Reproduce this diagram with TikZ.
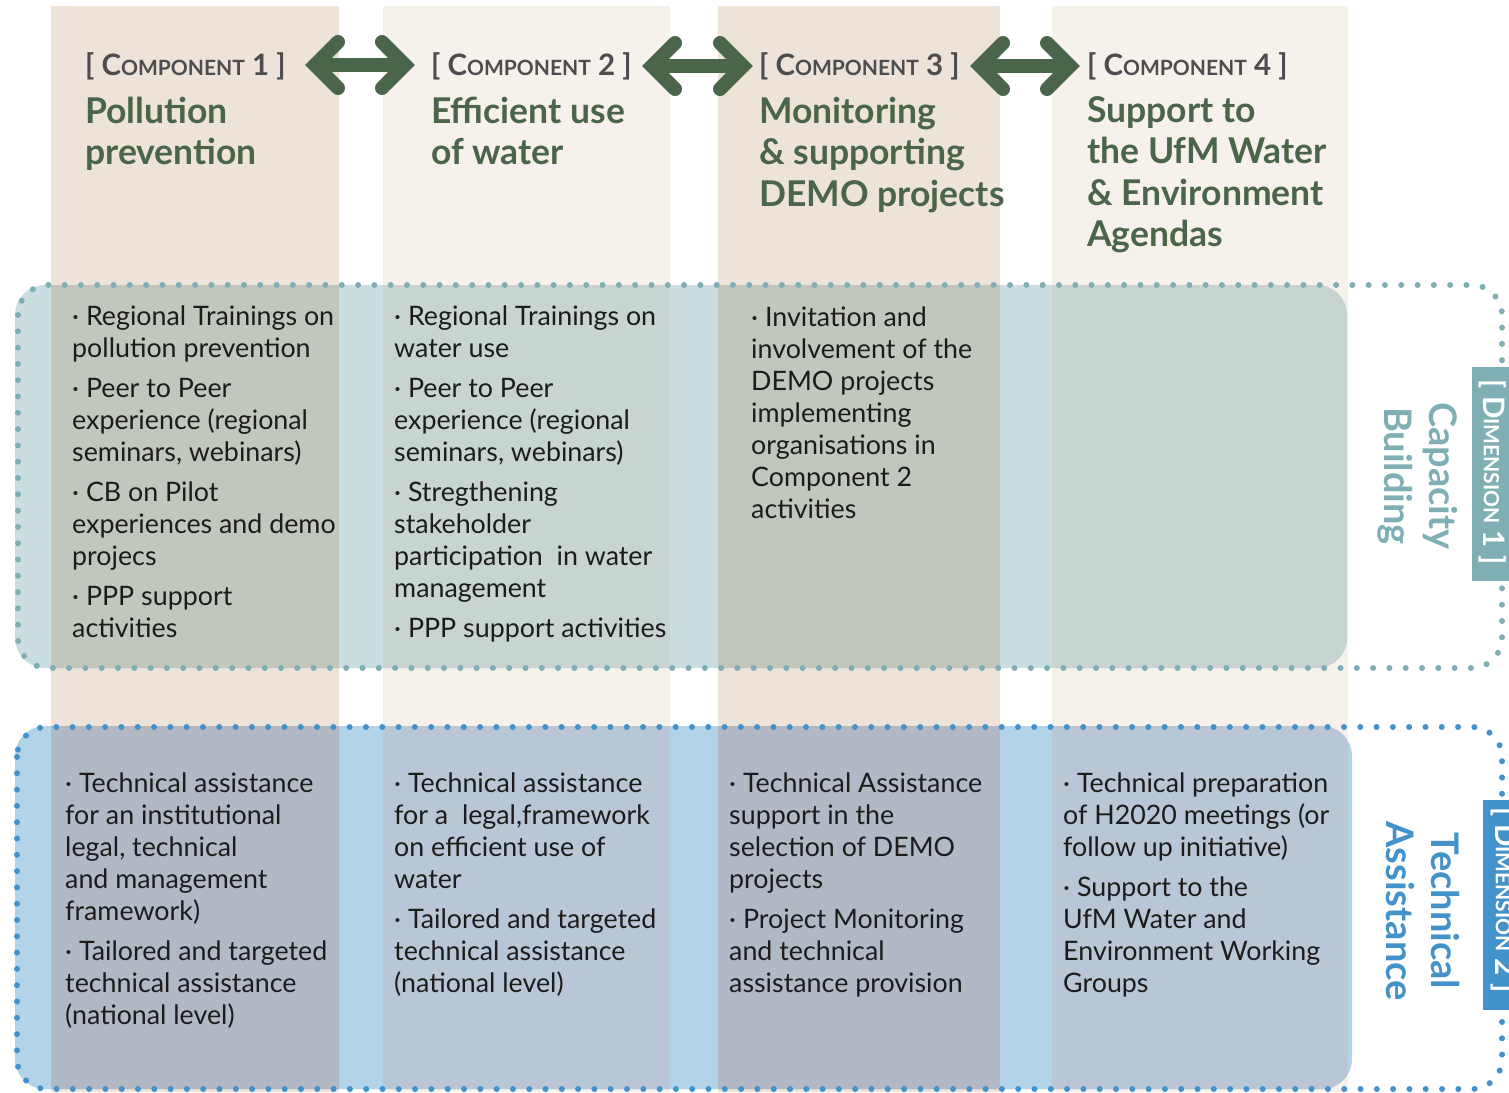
\documentclass[tikz,border=0pt]{standalone}
\usepackage{fontspec}
\setmainfont{Lato}
\definecolor{colA}{HTML}{EDE3D8}
\definecolor{colB}{HTML}{F6F1EB}
\definecolor{cbW}{HTML}{CADDE1}
\definecolor{cbA}{HTML}{C1C7BD}
\definecolor{cbB}{HTML}{C8D4D2}
\definecolor{taW}{HTML}{B3D3E9}
\definecolor{taA}{HTML}{B1B9C5}
\definecolor{taB}{HTML}{B8C6D6}
\definecolor{dimteal}{HTML}{7FAFB5}
\definecolor{dimblue}{HTML}{4392C9}
\definecolor{hgreen}{HTML}{4A654A}
\definecolor{hgray}{HTML}{4D4D4F}
\definecolor{btext}{HTML}{1C1C1C}
\newcommand\blk[2]{\begin{minipage}[t]{#1pt}\raggedright #2\end{minipage}}
\newcommand\smc[2]{{\fontsize{#1}{#1}\selectfont #2}}
\begin{document}
\begin{tikzpicture}[x=1pt,y=-1pt,
  hdr/.style={anchor=base west, inner sep=0, text=hgray, font=\bfseries\fontsize{29.5}{29.5}\selectfont},
  ttl/.style={anchor=base west, inner sep=0, text=hgreen, font=\bfseries\fontsize{35.5}{41.5}\selectfont},
  body/.style={anchor=base west, inner sep=0, text=btext, font=\fontsize{26.8}{32}\selectfont},
  dotb/.style={line width=6, dash pattern=on 0pt off 16.3pt, line cap=round, rounded corners=30},
  dblarrow/.style={hgreen, line width=14, line cap=round, line join=miter},
  dimlab/.style={rotate=-90, text=white, font=\bfseries\fontsize{29.5}{29.5}\selectfont, inner sep=0},
  dimtitle/.style={rotate=-90, align=center, font=\bfseries\fontsize{38}{45}\selectfont, inner sep=0}
]
\useasboundingbox (0,0) rectangle (1509,1092);
\clip (0,0) rectangle (1509,1092);
% columns
\fill[colA] (51,6) rectangle (339,1092);
\fill[colB] (383,6) rectangle (670,1092);
\fill[colA] (718,6) rectangle (1000,1092);
\fill[colB] (1052,6) rectangle (1348,1092);
% capacity building band
\begin{scope}
\clip[rounded corners=30] (15,285) rectangle (1347,668);
\fill[cbW] (0,0) rectangle (1509,1092);
\fill[cbA] (51,0) rectangle (339,1092);
\fill[cbB] (383,0) rectangle (670,1092);
\fill[cbA] (718,0) rectangle (1000,1092);
\fill[cbB] (1052,0) rectangle (1348,1092);
\end{scope}
% technical assistance band
\begin{scope}
\clip[rounded corners=30] (15,726) rectangle (1352,1089);
\fill[taW] (0,0) rectangle (1509,1092);
\fill[taA] (51,0) rectangle (339,1092);
\fill[taB] (383,0) rectangle (670,1092);
\fill[taA] (718,0) rectangle (1000,1092);
\fill[taB] (1052,0) rectangle (1348,1092);
\end{scope}
% dotted frames
\draw[dotb, dimteal] (18,285) rectangle (1502,668);
\draw[dotb, dimblue] (17,727) rectangle (1502,1089);
% headers
\node[hdr] (h1) at (85,75) {[ C\smc{21}{OMPONENT} 1 ]};
\node[hdr] (h2) at (431,75) {[ C\smc{21}{OMPONENT} 2 ]};
\node[hdr] (h3) at (759,75) {[ C\smc{21}{OMPONENT} 3 ]};
\node[hdr] (h4) at (1087,75) {[ C\smc{21}{OMPONENT} 4 ]};
\node[ttl] (t1) at (85,123) {\blk{270}{Pollution\\prevention}};
\node[ttl] (t2) at (431,123) {\blk{270}{Efficient use\\of water}};
\node[ttl] (t3) at (759,123) {\blk{270}{Monitoring\\\& supporting\\DEMO projects}};
\node[ttl] (t4) at (1087,122) {\blk{270}{Support to\\the UfM Water\\\& Environment\\Agendas}};
% arrows
\coordinate (a1l) at (315,65); \coordinate (a1r) at (405,65);
\coordinate (a2l) at (652,66); \coordinate (a2r) at (743,66);
\coordinate (a3l) at (980,66); \coordinate (a3r) at (1070,66);
\foreach \l/\r in {a1l/a1r, a2l/a2r, a3l/a3r}{
  \draw[dblarrow, line cap=butt] (\l) -- (\r);
  \draw[dblarrow] ([shift={(23,-23)}]\l) -- (\l) -- ([shift={(23,23)}]\l);
  \draw[dblarrow] ([shift={(-23,-23)}]\r) -- (\r) -- ([shift={(-23,23)}]\r);
}
% capacity building texts
\node[body] (cb1) at (72,325) {\blk{300}{· Regional Trainings on\\pollution prevention\\[8pt]· Peer to Peer\\experience (regional\\seminars, webinars)\\[8pt]· CB on Pilot\\experiences and demo\\projecs\\[8pt]· PPP support\\activities}};
\node[body] (cb2) at (394,325) {\blk{300}{· Regional Trainings on\\water use\\[8pt]· Peer to Peer\\experience (regional\\seminars, webinars)\\[8pt]· Stregthening\\stakeholder\\participation\ \ in water\\management\\[8pt]· PPP support activities}};
\node[body] (cb3) at (751,326) {\blk{300}{· Invitation and\\involvement of the\\DEMO projects\\implementing\\organisations in\\Component 2\\activities}};
% technical assistance texts
\node[body] (ta1) at (65,792) {\blk{300}{· Technical assistance\\for an institutional\\legal, technical\\and management\\framework)\\[8pt]· Tailored and targeted\\technical assistance\\(national level)}};
\node[body] (ta2) at (394,792) {\blk{300}{· Technical assistance\\for a\ \ legal,framework\\on efficient use of\\water\\[8pt]· Tailored and targeted\\technical assistance\\(national level)}};
\node[body] (ta3) at (729,792) {\blk{300}{· Technical Assistance\\support in the\\selection of DEMO\\projects\\[8pt]· Project Monitoring\\and technical\\assistance provision}};
\node[body] (ta4) at (1063,792) {\blk{300}{· Technical preparation\\of H2020 meetings (or\\follow up initiative)\\[8pt]· Support to the\\UfM Water and\\Environment Working\\Groups}};
% dimension labels
\fill[dimteal] (1472,367) rectangle (1515,581);
\node[dimlab] (d1) at (1493,472) {[ D\smc{21}{IMENSION} 1 ]};
\node[dimtitle, text=dimteal] (d1t) at (1418,476) {Capacity\\Building};
\fill[dimblue] (1483,800) rectangle (1530,1010);
\node[dimlab] (d2) at (1505,900) {[ D\smc{21}{IMENSION} 2 ]};
\node[dimtitle, text=dimblue] (d2t) at (1423,911) {Technical\\Assistance};
\end{tikzpicture}
\end{document}
